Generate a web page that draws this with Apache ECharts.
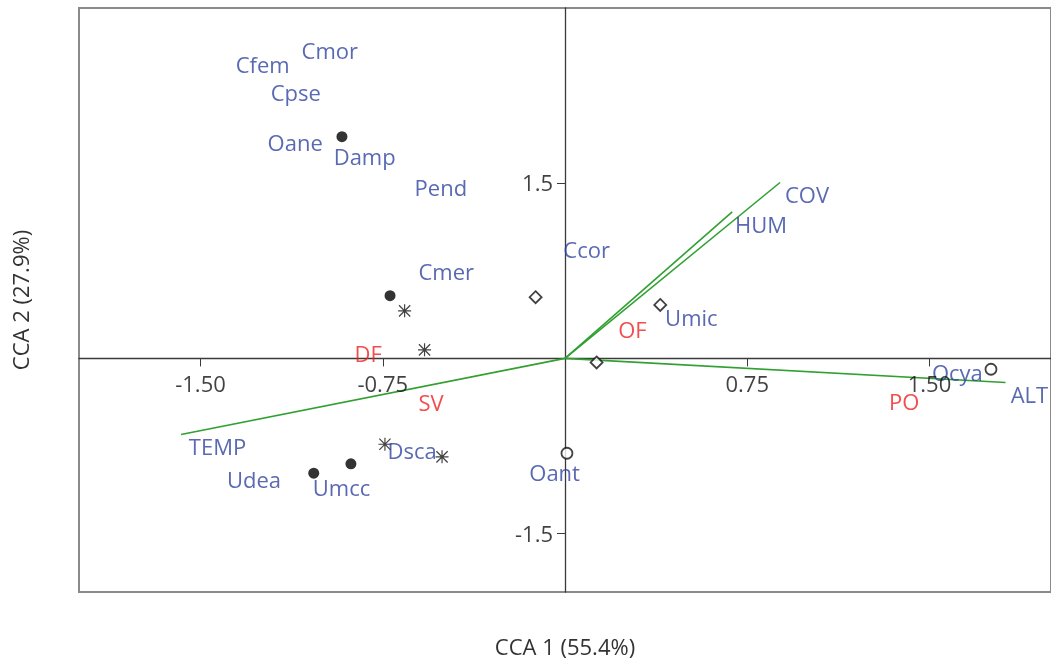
<!DOCTYPE html>
<html>
<head>
<meta charset="utf-8">
<script src="https://cdn.jsdelivr.net/npm/echarts@6/dist/echarts.min.js"></script>
<style>
  html, body { margin: 0; padding: 0; background: #fff; }
  #chart { width: 1051px; height: 662px; }
</style>
</head>
<body>
<div id="chart"></div>
<script>
// CCA biplot: site scores by group, environmental vectors and labels

// Site scores (CCA1, CCA2) by marker group
const filledCircles = [[-0.918, 1.898], [-0.720, 0.537], [-0.881, -0.903], [-1.034, -0.983]];
const asterisks     = [[-0.660, 0.407], [-0.578, 0.073], [-0.741, -0.735], [-0.506, -0.843]];
const openDiamonds  = [[-0.121, 0.524], [0.392, 0.458], [0.130, -0.035]];
const openCircles   = [[0.008, -0.812], [1.753, -0.093]];

// Environmental vectors (arrow tips, drawn from the origin)
const vectorNames = ['TEMP', 'COV', 'HUM', 'ALT'];
const vectorTips  = [[-1.580, -0.651], [0.885, 1.506], [0.688, 1.254], [1.813, -0.206]];

// Species and variable labels (left edge, vertical middle of text)
const blueLabels = [
  ['Cmor', -1.084, 2.640], ['Cfem', -1.355, 2.520], ['Cpse', -1.211, 2.280],
  ['Oane', -1.224, 1.851], ['Damp', -0.952, 1.731], ['Pend', -0.619, 1.474],
  ['Ccor', -0.007, 0.935], ['Cmer', -0.603, 0.747], ['Umic', 0.412, 0.361],
  ['Ocya', 1.510, -0.110], ['ALT', 1.834, -0.306], ['COV', 0.905, 1.414],
  ['HUM', 0.700, 1.157], ['TEMP', -1.548, -0.752], ['Udea', -1.391, -1.034],
  ['Umcc', -1.038, -1.103], ['Dsca', -0.730, -0.778], ['Oant', -0.147, -0.974]
];
// Factor level labels
const redLabels = [['DF', -0.866, 0.045], ['SV', -0.603, -0.375], ['OF', 0.219, 0.250], ['PO', 1.333, -0.366]];

// Axis ticks
const xTicks = [-1.5, -0.75, 0.75, 1.5];
const yTicks = [-1.5, 1.5];

const FONT = 'Open Sans';
const FS = 22;
const BLUE = '#2f43a0';
const RED = '#f02020';
const GREEN = '#30a030';

const asteriskPath = 'path://M0 9.1H20V10.9H0Z M9.1 0H10.9V20H9.1Z ' +
  'M2.0 0.7L19.3 18.0L18.0 19.3L0.7 2.0Z M18.0 0.7L19.3 2.0L2.0 19.3L0.7 18.0Z';

const series = [];

vectorTips.forEach((tip, i) => {
  series.push({
    name: vectorNames[i], type: 'line', data: [[0, 0], tip],
    symbol: 'none', silent: true, z: 3,
    lineStyle: { color: GREEN, width: 1.6 }
  });
});

series.push({
  type: 'scatter', data: filledCircles, symbol: 'circle', symbolSize: 11, z: 5,
  itemStyle: { color: '#000' }
});
series.push({
  type: 'scatter', data: asterisks, symbol: asteriskPath, symbolSize: 13, z: 5,
  itemStyle: { color: '#111' }
});
series.push({
  type: 'scatter', data: openDiamonds, symbol: 'diamond', symbolSize: 12, z: 5,
  itemStyle: { color: '#fff', borderColor: '#111', borderWidth: 1.8 }
});
series.push({
  type: 'scatter', data: openCircles, symbol: 'circle', symbolSize: 11, z: 5,
  itemStyle: { color: '#fff', borderColor: '#111', borderWidth: 1.8 }
});

function labelSeries(list, color) {
  return {
    type: 'scatter', symbolSize: 0, silent: true, z: 6,
    data: list.map(d => ({ name: d[0], value: [d[1], d[2]] })),
    label: {
      show: true, position: 'right', distance: 0, offset: [0, 3], formatter: '{b}',
      color: color, fontFamily: FONT, fontSize: FS
    }
  };
}
series.push(labelSeries(blueLabels, BLUE));
series.push(labelSeries(redLabels, RED));

// Tick labels sit on the axes crossing at the origin
series.push({
  type: 'scatter', symbolSize: 0, silent: true, z: 6,
  data: xTicks.map(v => ({ name: v.toFixed(2), value: [v, 0] })),
  label: {
    show: true, position: 'bottom', distance: 16, formatter: '{b}',
    color: '#111', fontFamily: FONT, fontSize: FS
  }
});
series.push({
  type: 'scatter', symbolSize: 0, silent: true, z: 6,
  data: yTicks.map(v => ({ name: v.toFixed(1), value: [0, v] })),
  label: {
    show: true, position: 'left', distance: 12, offset: [0, 2], formatter: '{b}',
    color: '#111', fontFamily: FONT, fontSize: FS
  }
});

const chart = echarts.init(document.getElementById('chart'), null, { renderer: 'canvas' });
chart.setOption({
  animation: false,
  backgroundColor: '#fff',
  grid: {
    left: 79, top: 8, width: 973, height: 584,
    show: true, borderColor: '#8a8a8a', borderWidth: 2, backgroundColor: 'transparent'
  },
  xAxis: {
    type: 'value', min: -2, max: 2,
    splitLine: { show: false },
    axisLine: { onZero: true, lineStyle: { color: '#3a3a3a', width: 1.3 } },
    axisTick: { show: true, length: 8, customValues: xTicks, lineStyle: { color: '#3a3a3a' } },
    axisLabel: { show: false }
  },
  yAxis: {
    type: 'value', min: -2, max: 3,
    splitLine: { show: false },
    axisLine: { onZero: true, lineStyle: { color: '#3a3a3a', width: 1.3 } },
    axisTick: { show: true, length: 8, customValues: yTicks, lineStyle: { color: '#3a3a3a' } },
    axisLabel: { show: false }
  },
  graphic: [
    {
      type: 'text', x: 565, y: 649,
      style: { text: 'CCA 1 (55.4%)', fill: '#333', font: FS + 'px "Open Sans"',
               align: 'center', verticalAlign: 'middle' }
    },
    {
      type: 'text', x: 23, y: 300, rotation: Math.PI / 2,
      style: { text: 'CCA 2 (27.9%)', fill: '#333', font: FS + 'px "Open Sans"',
               align: 'center', verticalAlign: 'middle' }
    }
  ],
  series: series
});
</script>
</body>
</html>
